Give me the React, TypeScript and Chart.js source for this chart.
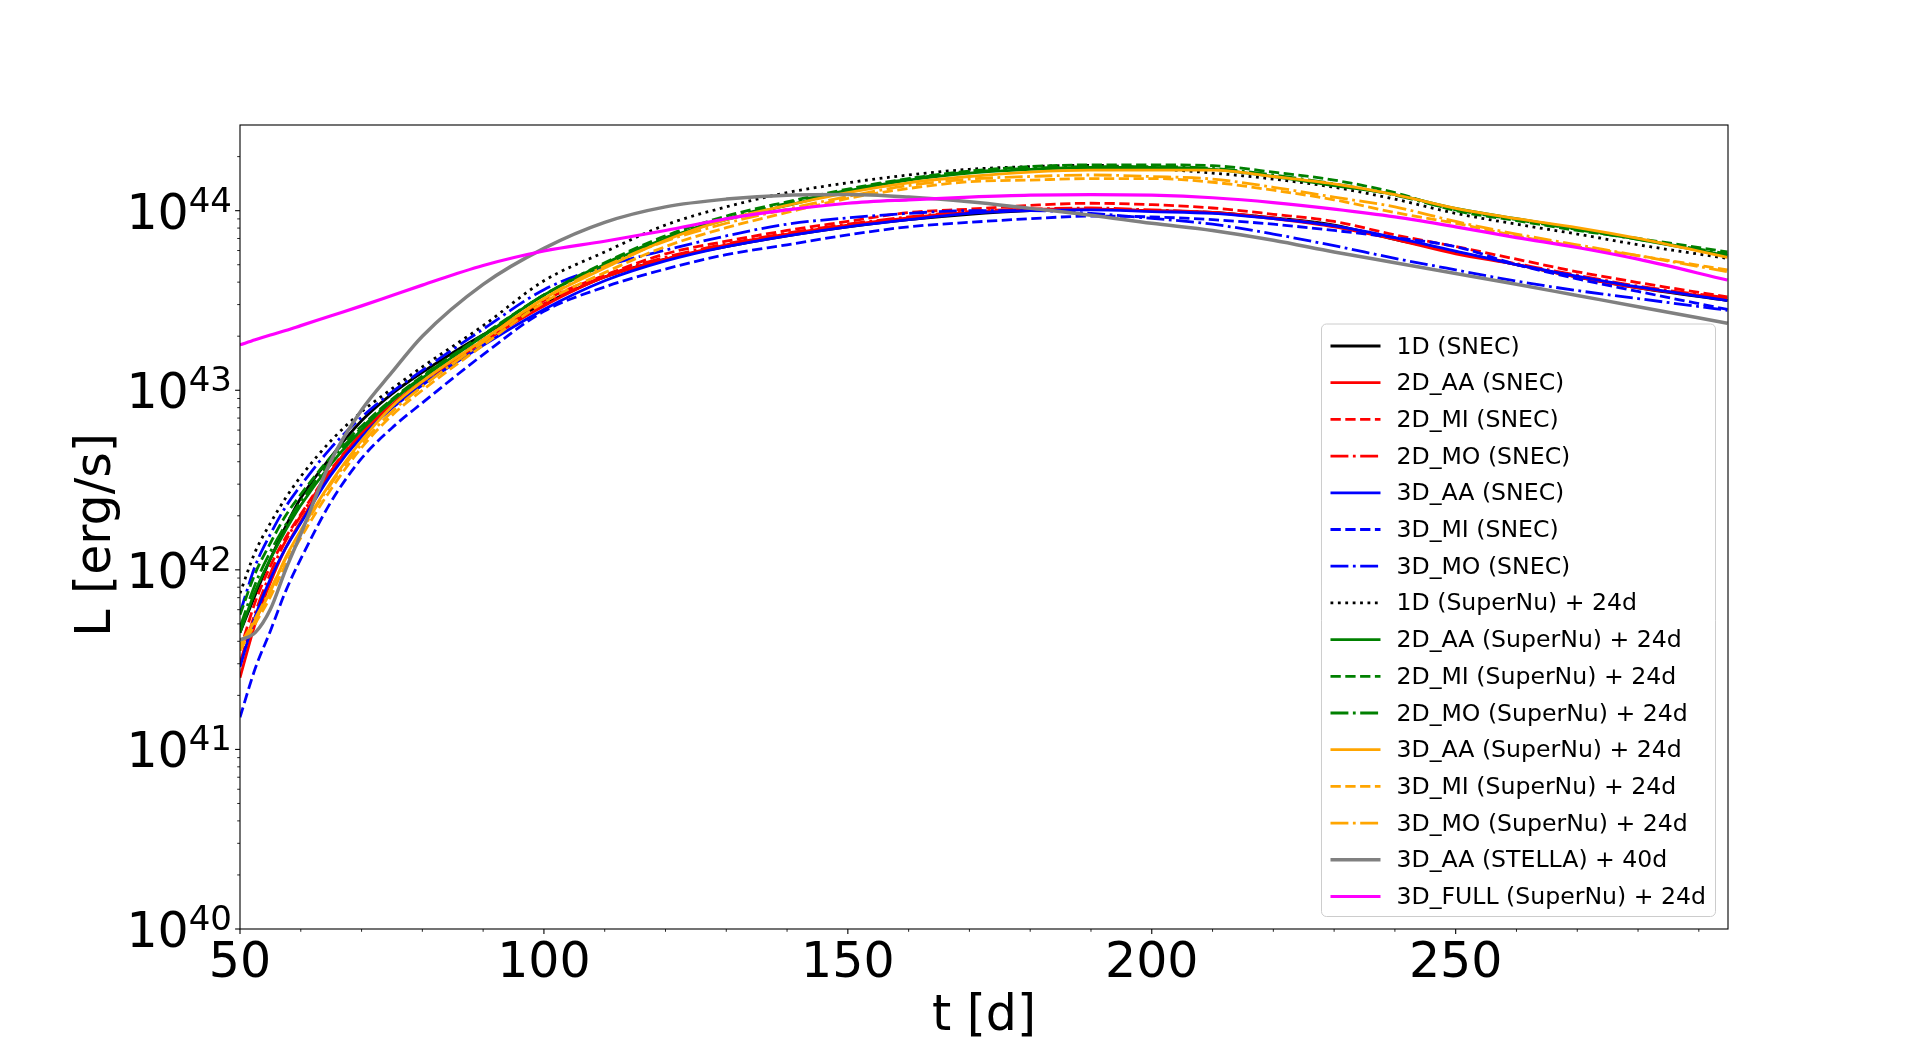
import { useEffect, useRef } from "react";
import { Chart, registerables } from "chart.js";

Chart.register(...registerables);

// time after explosion [d]
const times = [50, 52.5, 55, 57.5, 60, 65, 70, 75, 80, 90, 100, 110, 120, 130, 140, 150, 160, 170, 180, 190, 200, 210, 220, 230, 240, 250, 260, 270, 280, 294.7];

// bolometric luminosity [erg/s]
const lum1dSnec = [4.47e41, 7.24e41, 1.15e42, 1.74e42, 2.51e42, 4.27e42, 6.76e42, 9.55e42, 1.26e43, 2.04e43, 3.02e43, 4.27e43, 5.37e43, 6.31e43, 7.24e43, 8.13e43, 8.91e43, 9.55e43, 1.0e44, 1.02e44, 1.0e44, 9.77e43, 9.12e43, 8.32e43, 6.92e43, 5.89e43, 5.01e43, 4.27e43, 3.72e43, 3.16e43];
const lum2dAaSnec = [2.51e41, 5.01e41, 8.51e41, 1.32e42, 1.86e42, 3.55e42, 5.75e42, 8.32e42, 1.12e43, 1.86e43, 2.95e43, 4.27e43, 5.37e43, 6.46e43, 7.41e43, 8.32e43, 9.12e43, 9.77e43, 1.02e44, 1.02e44, 1.0e44, 9.77e43, 9.02e43, 8.13e43, 6.92e43, 5.75e43, 5.01e43, 4.27e43, 3.72e43, 3.24e43];
const lum2dMiSnec = [3.55e41, 6.61e41, 1.05e42, 1.51e42, 2.04e42, 3.63e42, 5.75e42, 8.32e42, 1.12e43, 1.91e43, 3.16e43, 4.37e43, 5.75e43, 6.76e43, 7.76e43, 8.71e43, 9.77e43, 1.02e44, 1.07e44, 1.1e44, 1.08e44, 1.035e44, 9.55e43, 8.71e43, 7.33e43, 6.31e43, 5.37e43, 4.57e43, 3.98e43, 3.31e43];
const lum2dMoSnec = [3.02e41, 5.75e41, 9.55e41, 1.45e42, 2.0e42, 3.55e42, 5.62e42, 8.13e42, 1.1e43, 1.86e43, 3.02e43, 4.32e43, 5.5e43, 6.53e43, 7.5e43, 8.41e43, 9.23e43, 9.89e43, 1.02e44, 1.035e44, 1.01e44, 9.77e43, 9.12e43, 8.22e43, 7.0e43, 5.89e43, 5.07e43, 4.37e43, 3.8e43, 3.27e43];
const lum3dAaSnec = [2.88e41, 5.5e41, 8.91e41, 1.32e42, 1.82e42, 3.39e42, 5.5e42, 7.94e42, 1.07e43, 1.78e43, 2.82e43, 4.07e43, 5.25e43, 6.31e43, 7.24e43, 8.13e43, 8.91e43, 9.66e43, 1.0e44, 1.01e44, 9.89e43, 9.66e43, 9.02e43, 8.22e43, 7.08e43, 5.96e43, 5.01e43, 4.32e43, 3.76e43, 3.16e43];
const lum3dMiSnec = [1.51e41, 2.82e41, 4.57e41, 7.59e41, 1.15e42, 2.4e42, 4.17e42, 6.17e42, 8.51e42, 1.58e43, 2.75e43, 3.76e43, 4.73e43, 5.69e43, 6.46e43, 7.33e43, 8.13e43, 8.61e43, 9.02e43, 9.33e43, 9.23e43, 8.91e43, 8.41e43, 7.76e43, 7.08e43, 6.31e43, 5.01e43, 4.17e43, 3.55e43, 2.82e43];
const lum3dMoSnec = [5.75e41, 1.05e42, 1.58e42, 2.24e42, 2.95e42, 4.79e42, 7.08e42, 9.77e42, 1.29e43, 2.19e43, 3.63e43, 4.9e43, 6.03e43, 7.24e43, 8.41e43, 9.12e43, 9.66e43, 1.0e44, 1.0e44, 9.66e43, 9.06e43, 8.41e43, 7.41e43, 6.38e43, 5.43e43, 4.68e43, 4.05e43, 3.59e43, 3.24e43, 2.79e43];
const lum1dSuperNu = [7.41e41, 1.26e42, 1.82e42, 2.51e42, 3.31e42, 5.25e42, 7.59e42, 1.02e43, 1.35e43, 2.29e43, 4.07e43, 5.89e43, 8.32e43, 1.05e44, 1.26e44, 1.43e44, 1.58e44, 1.7e44, 1.76e44, 1.79e44, 1.72e44, 1.62e44, 1.5e44, 1.35e44, 1.16e44, 9.66e43, 8.41e43, 7.41e43, 6.46e43, 5.42e43];
const lum2dAaSuperNu = [4.47e41, 7.59e41, 1.15e42, 1.66e42, 2.29e42, 3.89e42, 6.03e42, 8.71e42, 1.17e43, 2.0e43, 3.39e43, 5.01e43, 7.0e43, 8.91e43, 1.07e44, 1.29e44, 1.48e44, 1.62e44, 1.7e44, 1.74e44, 1.74e44, 1.7e44, 1.55e44, 1.38e44, 1.23e44, 1.03e44, 9.02e43, 7.94e43, 6.92e43, 5.62e43];
const lum2dMiSuperNu = [5.62e41, 9.55e41, 1.41e42, 2.0e42, 2.63e42, 4.27e42, 6.31e42, 8.91e42, 1.2e43, 2.04e43, 3.39e43, 5.13e43, 7.24e43, 9.33e43, 1.12e44, 1.32e44, 1.51e44, 1.66e44, 1.76e44, 1.8e44, 1.8e44, 1.78e44, 1.64e44, 1.48e44, 1.26e44, 1.0e44, 8.81e43, 7.76e43, 7.0e43, 5.89e43];
const lum2dMoSuperNu = [4.79e41, 8.32e41, 1.26e42, 1.78e42, 2.4e42, 4.07e42, 6.17e42, 8.81e42, 1.19e43, 2.02e43, 3.39e43, 5.07e43, 7.08e43, 9.02e43, 1.1e44, 1.3e44, 1.5e44, 1.64e44, 1.72e44, 1.76e44, 1.76e44, 1.72e44, 1.58e44, 1.41e44, 1.22e44, 1.01e44, 8.91e43, 7.85e43, 6.92e43, 5.75e43];
const lum3dAaSuperNu = [3.72e41, 5.25e41, 7.59e41, 1.17e42, 1.66e42, 3.09e42, 5.25e42, 8.13e42, 1.12e43, 1.91e43, 3.24e43, 4.79e43, 6.84e43, 8.91e43, 1.07e44, 1.26e44, 1.43e44, 1.55e44, 1.64e44, 1.68e44, 1.68e44, 1.68e44, 1.55e44, 1.41e44, 1.23e44, 1.03e44, 9.02e43, 8.04e43, 7.0e43, 5.5e43];
const lum3dMiSuperNu = [3.55e41, 5.01e41, 7.08e41, 1.07e42, 1.51e42, 2.82e42, 4.79e42, 7.24e42, 1.0e43, 1.78e43, 3.09e43, 4.52e43, 6.31e43, 8.04e43, 9.77e43, 1.17e44, 1.33e44, 1.45e44, 1.48e44, 1.51e44, 1.51e44, 1.44e44, 1.3e44, 1.15e44, 9.77e43, 8.51e43, 7.24e43, 6.31e43, 5.62e43, 4.68e43];
const lum3dMoSuperNu = [3.8e41, 5.37e41, 7.76e41, 1.15e42, 1.62e42, 3.02e42, 5.01e42, 7.59e42, 1.05e43, 1.86e43, 3.24e43, 4.9e43, 6.76e43, 8.51e43, 1.02e44, 1.2e44, 1.38e44, 1.5e44, 1.55e44, 1.58e44, 1.55e44, 1.5e44, 1.35e44, 1.19e44, 1.05e44, 8.71e43, 7.41e43, 6.46e43, 5.62e43, 4.57e43];
const lum3dAaStella = [4.07e41, 4.47e41, 6.03e41, 1.0e42, 1.58e42, 4.07e42, 7.76e42, 1.26e43, 2.0e43, 3.89e43, 6.17e43, 8.61e43, 1.05e44, 1.16e44, 1.22e44, 1.23e44, 1.19e44, 1.12e44, 1.03e44, 9.44e43, 8.51e43, 7.76e43, 6.84e43, 5.89e43, 5.13e43, 4.47e43, 3.89e43, 3.37e43, 2.92e43, 2.36e43];
const lum3dFullSuperNu = [1.79e43, 1.91e43, 2.03e43, 2.15e43, 2.29e43, 2.6e43, 2.95e43, 3.37e43, 3.85e43, 4.95e43, 5.96e43, 6.76e43, 7.76e43, 9.02e43, 1.01e44, 1.1e44, 1.15e44, 1.19e44, 1.22e44, 1.23e44, 1.22e44, 1.18e44, 1.11e44, 1.02e44, 9.23e43, 8.13e43, 7.08e43, 6.24e43, 5.37e43, 4.11e43];

const xTickLabels = [50, 100, 150, 200, 250];
const yTickExponents = [40, 41, 42, 43, 44];

const LW = 2.8;
const SOLID: number[] = [];
const DASHED = [10.3, 4.5];
const DASHDOT = [17.9, 4.5, 2.8, 4.5];
const DOTTED = [2.8, 4.6];

const series = [
  { label: "1D (SNEC)", values: lum1dSnec, color: "#000000", dash: SOLID, width: LW },
  { label: "2D_AA (SNEC)", values: lum2dAaSnec, color: "#ff0000", dash: SOLID, width: LW },
  { label: "2D_MI (SNEC)", values: lum2dMiSnec, color: "#ff0000", dash: DASHED, width: LW },
  { label: "2D_MO (SNEC)", values: lum2dMoSnec, color: "#ff0000", dash: DASHDOT, width: LW },
  { label: "3D_AA (SNEC)", values: lum3dAaSnec, color: "#0000ff", dash: SOLID, width: LW },
  { label: "3D_MI (SNEC)", values: lum3dMiSnec, color: "#0000ff", dash: DASHED, width: LW },
  { label: "3D_MO (SNEC)", values: lum3dMoSnec, color: "#0000ff", dash: DASHDOT, width: LW },
  { label: "1D (SuperNu) + 24d", values: lum1dSuperNu, color: "#000000", dash: DOTTED, width: LW },
  { label: "2D_AA (SuperNu) + 24d", values: lum2dAaSuperNu, color: "#008000", dash: SOLID, width: LW },
  { label: "2D_MI (SuperNu) + 24d", values: lum2dMiSuperNu, color: "#008000", dash: DASHED, width: LW },
  { label: "2D_MO (SuperNu) + 24d", values: lum2dMoSuperNu, color: "#008000", dash: DASHDOT, width: LW },
  { label: "3D_AA (SuperNu) + 24d", values: lum3dAaSuperNu, color: "#ffa500", dash: SOLID, width: LW },
  { label: "3D_MI (SuperNu) + 24d", values: lum3dMiSuperNu, color: "#ffa500", dash: DASHED, width: LW },
  { label: "3D_MO (SuperNu) + 24d", values: lum3dMoSuperNu, color: "#ffa500", dash: DASHDOT, width: LW },
  { label: "3D_AA (STELLA) + 40d", values: lum3dAaStella, color: "#808080", dash: SOLID, width: 3.5 },
  { label: "3D_FULL (SuperNu) + 24d", values: lum3dFullSuperNu, color: "#ff00ff", dash: SOLID, width: 3.2 },
];

const FONT = "'DejaVu Sans', 'Liberation Sans', sans-serif";

// matplotlib-like frame, ticks, labels and legend
const mplPlugin = {
  id: "mplAxes",
  afterDraw(chart: any) {
    const { ctx, chartArea: a, scales } = chart;
    const xs = scales.x;
    const ys = scales.y;
    ctx.save();
    ctx.strokeStyle = "#000";
    ctx.fillStyle = "#000";

    // ticks
    const tick = (x1: number, y1: number, x2: number, y2: number, w: number) => {
      ctx.lineWidth = w;
      ctx.beginPath();
      ctx.moveTo(x1, y1);
      ctx.lineTo(x2, y2);
      ctx.stroke();
    };
    for (let t = 50; t <= xs.max; t += 10) {
      const px = xs.getPixelForValue(t);
      const major = t % 50 === 0;
      tick(px, a.bottom, px, a.bottom + (major ? 4.9 : 2.8), major ? 1.1 : 0.85);
    }
    for (const e of yTickExponents) {
      for (let m = 1; m <= 9; m++) {
        const v = m * Math.pow(10, e);
        if (v > ys.max) break;
        const py = ys.getPixelForValue(v);
        tick(a.left, py, a.left - (m === 1 ? 4.9 : 2.8), py, m === 1 ? 1.1 : 0.85);
      }
    }

    // frame
    ctx.lineWidth = 1.1;
    ctx.strokeRect(a.left, a.top, a.right - a.left, a.bottom - a.top);

    // tick labels
    ctx.textBaseline = "alphabetic";
    ctx.textAlign = "center";
    ctx.font = `49px ${FONT}`;
    for (const t of xTickLabels) {
      ctx.fillText(String(t), xs.getPixelForValue(t), a.bottom + 48);
    }
    ctx.textAlign = "right";
    for (const e of yTickExponents) {
      const py = ys.getPixelForValue(Math.pow(10, e));
      ctx.font = `34px ${FONT}`;
      const ew = ctx.measureText(String(e)).width;
      ctx.fillText(String(e), a.left - 8, py + 1);
      ctx.font = `49px ${FONT}`;
      ctx.fillText("10", a.left - 8 - ew, py + 18);
    }

    // axis titles
    ctx.font = `49px ${FONT}`;
    ctx.textAlign = "center";
    ctx.fillText("t [d]", (a.left + a.right) / 2, a.bottom + 101);
    ctx.save();
    ctx.translate(a.left - 130.5, 535);
    ctx.rotate(-Math.PI / 2);
    ctx.fillText("L [erg/s]", 0, 0);
    ctx.restore();

    // legend, lower right
    ctx.font = `23.6px ${FONT}`;
    let maxW = 0;
    for (const s of series) maxW = Math.max(maxW, ctx.measureText(s.label).width);
    const right = a.right - 12.5;
    const bottom = a.bottom - 12.5;
    const rowH = 36.7;
    const h = (series.length - 1) * rowH + 42;
    const w = 75 + maxW + 9.5;
    const left = right - w;
    const top = bottom - h;
    const r = 5;
    ctx.beginPath();
    ctx.moveTo(left + r, top);
    ctx.lineTo(right - r, top);
    ctx.arcTo(right, top, right, top + r, r);
    ctx.lineTo(right, bottom - r);
    ctx.arcTo(right, bottom, right - r, bottom, r);
    ctx.lineTo(left + r, bottom);
    ctx.arcTo(left, bottom, left, bottom - r, r);
    ctx.lineTo(left, top + r);
    ctx.arcTo(left, top, left + r, top, r);
    ctx.closePath();
    ctx.fillStyle = "rgba(255,255,255,0.8)";
    ctx.fill();
    ctx.strokeStyle = "#cccccc";
    ctx.lineWidth = 1;
    ctx.stroke();

    ctx.textAlign = "left";
    series.forEach((s, i) => {
      const cy = top + 21 + i * rowH;
      ctx.strokeStyle = s.color;
      ctx.lineWidth = s.width;
      ctx.setLineDash(s.dash);
      ctx.beginPath();
      ctx.moveTo(left + 9, cy + 1);
      ctx.lineTo(left + 59, cy + 1);
      ctx.stroke();
      ctx.setLineDash([]);
      ctx.fillStyle = "#000";
      ctx.fillText(s.label, left + 75, cy + 8.5);
    });

    ctx.restore();
  },
};

const LightCurveChart = () => {
  const canvasRef = useRef<HTMLCanvasElement>(null);
  const chartRef = useRef<Chart | null>(null);

  useEffect(() => {
    document.body.style.margin = "0";
    if (!canvasRef.current) return;
    if (chartRef.current) chartRef.current.destroy();

    chartRef.current = new Chart(canvasRef.current, {
      type: "line",
      data: {
        datasets: series.map((s, i) => ({
          label: s.label,
          data: s.values.map((v, j) => ({ x: times[j], y: v })),
          borderColor: s.color,
          backgroundColor: s.color,
          borderWidth: s.width,
          borderDash: s.dash,
          pointRadius: 0,
          fill: false,
          cubicInterpolationMode: "monotone" as const,
          order: series.length - i,
        })),
      },
      options: {
        responsive: false,
        animation: false,
        layout: { padding: { left: 240, right: 192, top: 125, bottom: 115 } },
        scales: {
          x: { type: "linear", min: 50, max: 294.8, display: false },
          y: { type: "logarithmic", min: 1e40, max: 3e44, display: false },
        },
        plugins: {
          legend: { display: false },
          tooltip: { enabled: false },
        },
      },
      plugins: [mplPlugin],
    });

    return () => {
      if (chartRef.current) {
        chartRef.current.destroy();
        chartRef.current = null;
      }
    };
  }, []);

  return (
    <div style={{ width: 1920, height: 1044, background: "#fff" }}>
      <canvas ref={canvasRef} width={1920} height={1044} style={{ width: 1920, height: 1044 }} />
    </div>
  );
};

export default function App() {
  return <LightCurveChart />;
}
